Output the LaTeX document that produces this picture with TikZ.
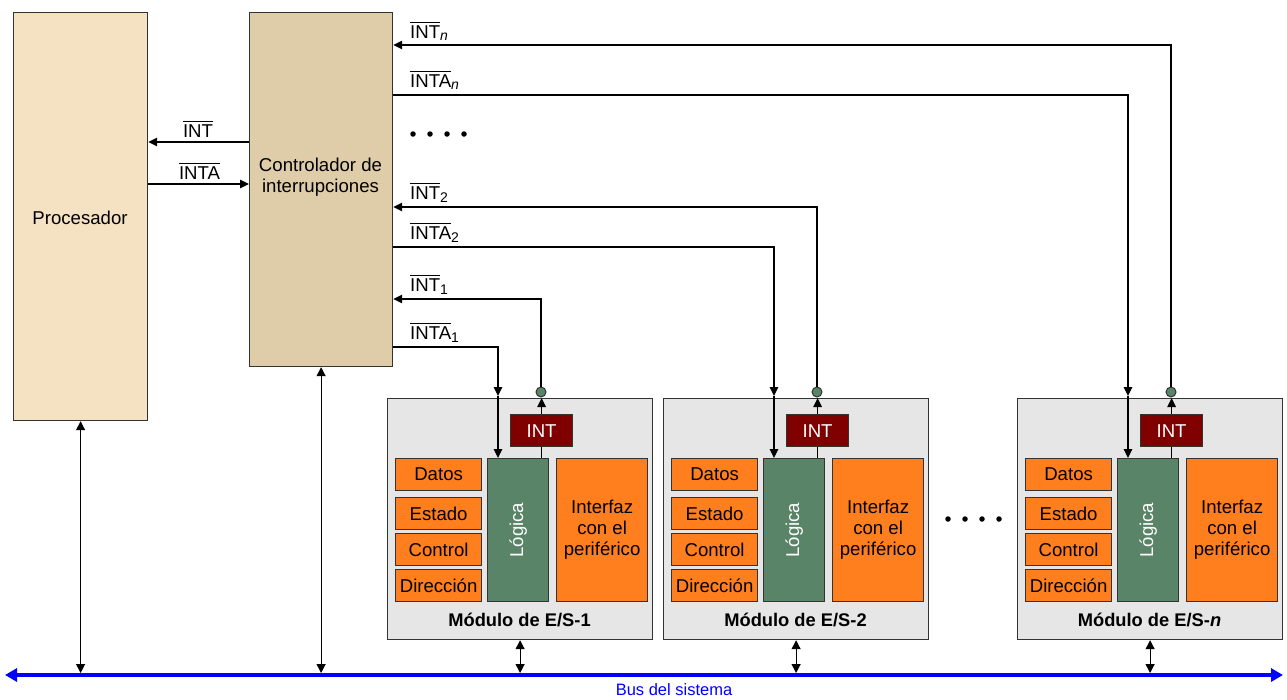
\documentclass[tikz,border=0pt]{standalone}
\usepackage{fontspec}
\usepackage{amsmath}
\setmainfont{Liberation Sans}
\usetikzlibrary{arrows.meta,calc}
\definecolor{procc}{HTML}{F5E2C3}
\definecolor{ctrlc}{HTML}{DFCCA9}
\definecolor{modg}{HTML}{E6E6E6}
\definecolor{orng}{HTML}{FF7F1E}
\definecolor{grn}{HTML}{5A8467}
\definecolor{dred}{HTML}{800000}
\definecolor{edgec}{HTML}{333333}
\newcommand{\subfont}{\fontsize{14}{14}\selectfont}
\begin{document}
\begin{tikzpicture}[x=1pt,y=-1pt,
  box/.style={draw=edgec,line width=1.2pt,anchor=north west,inner sep=0pt,align=center,font=\fontsize{18.6}{21}\selectfont},
  reg/.style={box,fill=orng,minimum width=86pt,minimum height=32pt},
  sig/.style={line width=1.2pt,-{Triangle[length=9pt,width=8.5pt]}},
  dsig/.style={line width=1.2pt,{Triangle[length=9pt,width=9pt]}-{Triangle[length=9pt,width=9pt]}},
  wire/.style={line width=1.2pt},
  lbl/.style={anchor=base west,inner sep=0pt,font=\fontsize{18.6}{20}\selectfont},
  dot/.style={circle,fill=black,inner sep=0pt,minimum size=5.5pt}]
\useasboundingbox (0,0) rectangle (1287,699);

% main boxes
\node[box,fill=procc,minimum width=134pt,minimum height=408pt] (proc) at (13,12) {};
\node[font=\fontsize{18.6}{21}\selectfont] (proct) at (80,218) {Procesador};
\node[box,fill=ctrlc,minimum width=143pt,minimum height=354pt] (ctrl) at (249,12) {};
\node[font=\fontsize{18.6}{21}\selectfont,align=center] (ctrlt) at (320.5,177) {Controlador de\\interrupciones};

% processor <-> controller
\coordinate (yint) at (0,142);
\coordinate (yinta) at (0,184);
\draw[sig] (ctrl.west |- yint) -- (proc.east |- yint);
\draw[sig] (proc.east |- yinta) -- (ctrl.west |- yinta);
\node[lbl,anchor=base] (lint) at (198,137) {$\overline{\text{INT}}$};
\node[lbl,anchor=base] (linta) at (199.5,179) {$\overline{\text{INTA}}$};

% bus
\coordinate (busL) at (5,675);
\coordinate (busR) at (1283,675);
\draw[blue,line width=4pt,{Triangle[length=12pt,width=13pt]}-{Triangle[length=12pt,width=13pt]}] (busL) -- (busR);
\node[text=blue,font=\fontsize{16.5}{18}\selectfont] (bust) at (674,690) {Bus del sistema};
\draw[dsig,shorten >=2pt] (proc.south) -- (proc.south |- busL);
\draw[dsig,shorten >=2pt] (ctrl.south) -- (ctrl.south |- busL);

% signal labels
\node[lbl] (lintn) at (410,38) {$\overline{\text{INT}}_{\hbox{\subfont\itshape n}}$};
\node[lbl] (lintan) at (410,87) {$\overline{\text{INTA}}_{\hbox{\subfont\itshape n}}$};
\node[lbl] (lint2) at (410,199) {$\overline{\text{INT}}_{\hbox{\subfont 2}}$};
\node[lbl] (linta2) at (410,239) {$\overline{\text{INTA}}_{\hbox{\subfont 2}}$};
\node[lbl] (lint1) at (410,291) {$\overline{\text{INT}}_{\hbox{\subfont 1}}$};
\node[lbl] (linta1) at (410,339) {$\overline{\text{INTA}}_{\hbox{\subfont 1}}$};

% dots
\foreach \k in {0,1,2,3} {
  \node[dot] (da\k) at (413+17*\k,134) {};
  \node[dot] (db\k) at (948+17*\k,519) {};
}

% modules
\foreach \i/\dx/\t/\yi/\ya in {1/0/1/299/347, 2/276/2/207/247, n/630/\textit{n}/45/95} {
  \begin{scope}[xshift=\dx pt]
    \node[box,fill=modg,minimum width=265pt,minimum height=241pt] (mod\i) at (387,398) {};
    \node[reg] (dat\i) at (395,458) {Datos};
    \node[reg] (est\i) at (395,497) {Estado};
    \node[reg] (con\i) at (395,533) {Control};
    \node[reg] (dir\i) at (395,569) {Dirección};
    \node[box,fill=grn,minimum width=61pt,minimum height=143pt] (log\i) at (487,458) {};
    \node[rotate=90,text=white,font=\fontsize{18.6}{21}\selectfont] (logt\i) at (log\i.center) {Lógica};
    \node[box,fill=orng,minimum width=91pt,minimum height=143pt] (itf\i) at (556,458) {Interfaz\\con el\\periférico};
    \node[box,fill=dred,text=white,minimum width=62pt,minimum height=32pt] (int\i) at (510,414) {INT};
    \node[circle,draw=edgec,line width=1pt,fill=grn,minimum size=10pt,inner sep=0pt] (c\i) at (541,392) {};
    \node[font=\bfseries\fontsize{18.3}{21}\selectfont] (mt\i) at (519.5,620) {Módulo de E/S-\t};
    \coordinate (ax\i) at (498,396);
    \coordinate (yi\i) at (0,\yi);
    \coordinate (ya\i) at (0,\ya);
    % INTA
    \draw[sig] (ctrl.east |- ya\i) -| (ax\i);
    \draw[sig] (ax\i) -- (ax\i |- log\i.north);
    % INT
    \draw[wire] (int\i.south |- log\i.north) -- (int\i.south);
    \draw[sig] (int\i.north) -- (int\i.north |- mod\i.north);
    \draw[sig] (c\i.north) |- (ctrl.east |- yi\i);
    % to bus
    \draw[dsig,shorten >=2pt] (mod\i.south) -- (mod\i.south |- busL);
  \end{scope}
}
\end{tikzpicture}
\end{document}
